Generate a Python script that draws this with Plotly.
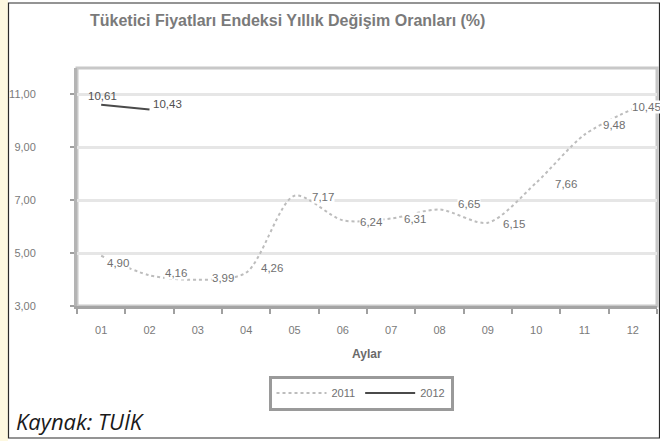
import plotly.graph_objects as go

# ---- data ----
months = ["01", "02", "03", "04", "05", "06", "07", "08", "09", "10", "11", "12"]
y2011 = [4.90, 4.16, 3.99, 4.26, 7.17, 6.24, 6.31, 6.65, 6.15, 7.66, 9.48, 10.45]
months2012 = ["01", "02"]
y2012 = [10.61, 10.43]
y_ticks = [3, 5, 7, 9, 11]
title_text = "Tüketici Fiyatları Endeksi Yıllık Değişim Oranları (%)"
x_title = "Aylar"
source_text = "Kaynak: TUİK"

# ---- label offsets in px (style) ----
off2011 = [(5, -7), (14, 2), (13, 2), (14, 5), (16, -1), (16, -2), (12, -1), (17, 5), (14, -1), (18, -1), (17, 10), (-2, 2)]
off2012 = [(-14, 9), (2, 6)]

W, H = 660, 441
L, R, T, B = 77, 3, 68, 135
PW, PH = W - L - R, H - T - B
LBL = 11.5

def px(x):
    return (x - L) / PW

def py(y):
    return (H - B - y) / PH

fig = go.Figure()
fig.add_trace(go.Scatter(x=months, y=y2011, name="2011", mode="lines",
                         line=dict(color="#bdbdbd", width=2, dash="dot", shape="spline", smoothing=0.8)))
fig.add_trace(go.Scatter(x=months2012, y=y2012, name="2012", mode="lines",
                         line=dict(color="#4a4a4a", width=2, shape="spline")))

def fmt(v):
    return f"{v:.2f}".replace(".", ",")

anns = []
for i, (v, (dx, dy)) in enumerate(zip(y2011, off2011)):
    anns.append(dict(x=i, y=v, xref="x", yref="y", text=fmt(v), showarrow=False,
                     xanchor="left", yanchor="middle", xshift=dx, yshift=dy, borderpad=0,
                     bgcolor="white", font=dict(size=LBL, color="#707070", family="Arial")))
for i, (v, (dx, dy)) in enumerate(zip(y2012, off2012)):
    anns.append(dict(x=i, y=v, xref="x", yref="y", text=fmt(v), showarrow=False,
                     xanchor="left", yanchor="middle", xshift=dx, yshift=dy, borderpad=0,
                     font=dict(size=LBL, color="#505050", family="Arial")))

anns.append(dict(text="<b>" + title_text + "</b>", xref="paper", yref="paper", x=px(88), y=py(20),
                 xanchor="left", yanchor="middle", showarrow=False,
                 font=dict(size=16, color="#7a7a7a", family="Arial")))
anns.append(dict(text="<b>" + x_title + "</b>", xref="paper", yref="paper", x=0.5, y=py(354),
                 xanchor="center", yanchor="middle", showarrow=False,
                 font=dict(size=12, color="#6a6a6a", family="Arial")))
anns.append(dict(text="<i>" + source_text + "</i>", xref="paper", yref="paper",
                 x=px(14), y=py(421), xanchor="left", yanchor="middle", showarrow=False,
                 font=dict(size=22, color="#1a1a1a", family="Open Sans")))

shapes = [
    dict(type="rect", xref="paper", yref="paper", x0=px(0), x1=px(8),
         y0=py(H), y1=py(0), fillcolor="#fdf8e0", line=dict(width=0), layer="below"),
    dict(type="rect", xref="paper", yref="paper",
         x0=px(8.5), x1=px(659.5), y0=py(438), y1=py(3),
         line=dict(color="#2a2a2a", width=1.2), fillcolor="rgba(0,0,0,0)", layer="above"),
    dict(type="rect", xref="paper", yref="paper", x0=0, x1=1, y0=0, y1=1,
         line=dict(color="#c8c8c8", width=3), fillcolor="rgba(0,0,0,0)", layer="below"),
]

fig.update_layout(
    width=W, height=H,
    margin=dict(l=L, r=R, t=T, b=B, autoexpand=False),
    paper_bgcolor="white", plot_bgcolor="white",
    separators=",.",
    showlegend=True,
    legend=dict(orientation="h", xref="container", yref="container",
                x=361 / W, y=1 - 393 / H, xanchor="center", yanchor="middle",
                bordercolor="#9a9a9a", borderwidth=3, bgcolor="white",
                font=dict(size=11, color="#707070", family="Arial"),
                itemwidth=50, tracegroupgap=0),
    annotations=anns,
    shapes=shapes,
    xaxis=dict(type="category", categoryorder="array", categoryarray=months,
               range=[-0.5, len(months) - 0.5], automargin=False,
               tickson="boundaries", ticks="outside", ticklen=5, tickwidth=2, tickcolor="#a0a0a0",
               showline=True, linecolor="#a4a4a4", linewidth=3, mirror=False,
               showgrid=False, tickfont=dict(size=11, color="#7a7a7a", family="Arial"),
               ticklabelstandoff=12),
    yaxis=dict(range=[3, 12], tickvals=y_ticks, tickformat=".2f", automargin=False,
               ticks="outside", ticklen=4, tickwidth=2, tickcolor="#a0a0a0",
               showline=True, linecolor="#b4b4b4", linewidth=3, mirror=False,
               showgrid=True, gridcolor="#e6e6e6", gridwidth=3, zeroline=False,
               tickfont=dict(size=11, color="#7a7a7a", family="Arial"),
               ticklabelstandoff=32),
)

fig.write_html("out.html", config={"displayModeBar": False},
               post_script="document.body.style.margin='0';")
